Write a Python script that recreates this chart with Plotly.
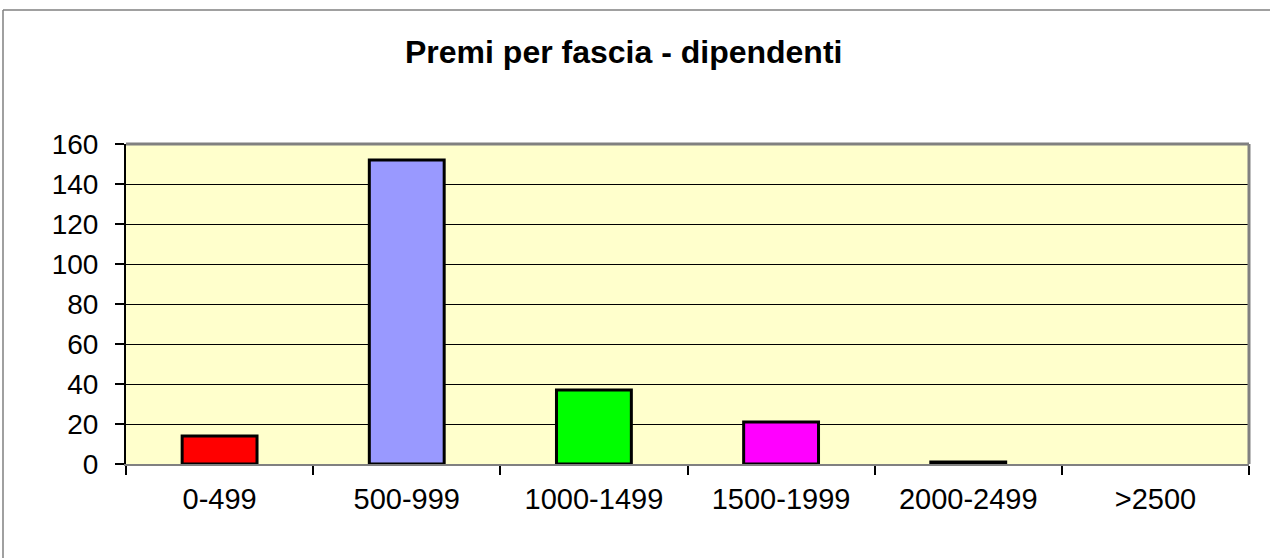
import plotly.graph_objects as go

categories = ["0-499", "500-999", "1000-1499", "1500-1999", "2000-2499", ">2500"]
values = [14, 152, 37, 21, 1, 0]
colors = ["#FF0000", "#9999FF", "#00FF00", "#FF00FF", "#000080", "#FFFF00"]
outline_widths = [3, 3, 3, 3, 3, 0]
y_ticks = [0, 20, 40, 60, 80, 100, 120, 140, 160]
title_text = "Premi per fascia - dipendenti"

W, H = 1270, 558
L, R, T, B = 126, 21, 144, 94
pw, ph = W - L - R, H - T - B

def px(x):
    return (x - L) / pw

def py(y):
    return (H - B - y) / ph

fig = go.Figure()
fig.add_trace(go.Bar(
    x=categories, y=values,
    marker=dict(color=colors, line=dict(color="black", width=outline_widths)),
    width=0.4,
))

font = "Liberation Sans, Arial, sans-serif"
fig.update_layout(
    width=W, height=H,
    margin=dict(l=L, r=R, t=T, b=B),
    paper_bgcolor="white",
    plot_bgcolor="#FFFFCC",
    showlegend=False,
    bargap=0.6,
    font=dict(family=font, color="black"),
    xaxis=dict(
        type="category",
        tickson="boundaries",
        ticks="outside", ticklen=9, tickwidth=2, tickcolor="black",
        tickfont=dict(size=29, family=font),
        showline=True, linecolor="#808080", linewidth=2,
        showgrid=False,
        ticklabelstandoff=8,
    ),
    yaxis=dict(
        range=[0, 160],
        tickvals=y_ticks,
        ticks="outside", ticklen=9, tickwidth=1.5, tickcolor="black",
        tickfont=dict(size=28, family=font),
        showgrid=True, gridcolor="black", gridwidth=1.3,
        zeroline=False,
        showline=True, linecolor="black", linewidth=2,
        ticklabelstandoff=11,
    ),
    shapes=[
        dict(type="line", xref="paper", yref="paper", x0=1, x1=1, y0=0, y1=1,
             line=dict(color="#808080", width=3)),
        dict(type="line", xref="paper", yref="paper", x0=0, x1=1, y0=1, y1=1,
             line=dict(color="#808080", width=3)),
        dict(type="line", xref="paper", yref="paper", x0=px(3), x1=px(1272), y0=py(10), y1=py(10),
             line=dict(color="#808080", width=1.5)),
        dict(type="line", xref="paper", yref="paper", x0=px(3), x1=px(3), y0=py(10), y1=py(560),
             line=dict(color="#808080", width=1.5)),
    ],
    annotations=[
        dict(text=title_text, xref="paper", yref="paper", x=px(623.5), y=py(52),
             xanchor="center", yanchor="middle", showarrow=False,
             font=dict(size=32, family=font, color="black", weight="bold")),
    ],
)

fig.write_html("out.html", config={"displayModeBar": False},
               post_script="document.body.style.margin='0';")
